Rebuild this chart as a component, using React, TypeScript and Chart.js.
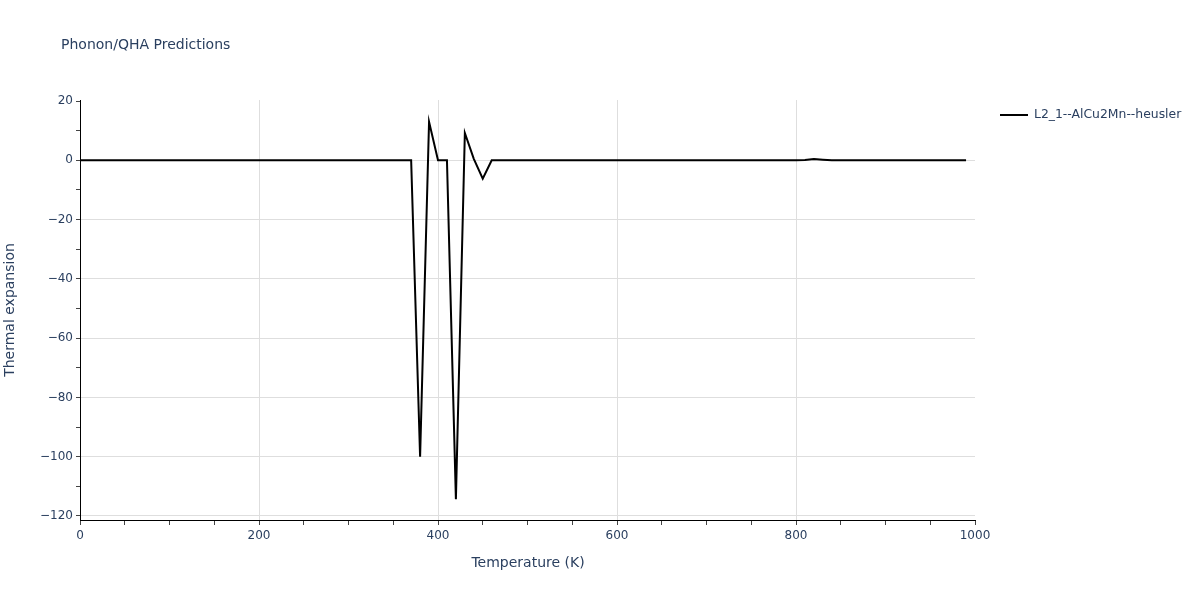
import React, { useEffect, useRef } from "react";
import { Chart, registerables } from "chart.js";

Chart.register(...registerables);

const temperatures = [
  0, 10, 20, 30, 40, 50, 60, 70, 80, 90,
  100, 110, 120, 130, 140, 150, 160, 170, 180, 190,
  200, 210, 220, 230, 240, 250, 260, 270, 280, 290,
  300, 310, 320, 330, 340, 350, 360, 370, 380, 390,
  400, 410, 420, 430, 440, 450, 460, 470, 480, 490,
  500, 510, 520, 530, 540, 550, 560, 570, 580, 590,
  600, 610, 620, 630, 640, 650, 660, 670, 680, 690,
  700, 710, 720, 730, 740, 750, 760, 770, 780, 790,
  800, 810, 820, 830, 840, 850, 860, 870, 880, 890,
  900, 910, 920, 930, 940, 950, 960, 970, 980, 990,
];

const thermalExpansion = [
  0, 0, 0, 0, 0, 0, 0, 0, 0, 0,
  0, 0, 0, 0, 0, 0, 0, 0, 0, 0,
  0, 0, 0, 0, 0, 0, 0, 0, 0, 0,
  0, 0, 0, 0, 0, 0, 0, 0, -100, 13,
  0, 0, -114.3, 9.2, 0.5, -6.2, 0, 0, 0, 0,
  0, 0, 0, 0, 0, 0, 0, 0, 0, 0,
  0, 0, 0, 0, 0, 0, 0, 0, 0, 0,
  0, 0, 0, 0, 0, 0, 0, 0, 0, 0,
  0, 0.1, 0.4, 0.2, 0, 0, 0, 0, 0, 0,
  0, 0, 0, 0, 0, 0, 0, 0, 0, 0,
];

const seriesName = "L2_1--AlCu2Mn--heusler";
const chartTitle = "Phonon/QHA Predictions";
const xTitle = "Temperature (K)";
const yTitle = "Thermal expansion";
const yTickValues = [-120, -110, -100, -90, -80, -70, -60, -50, -40, -30, -20, -10, 0, 10, 20];

const FONT = "'DejaVu Sans', Verdana, sans-serif";
const TEXT = "#2a3f5f";
const GRID = "#dedede";
const NONE = "rgba(0,0,0,0)";

const overlay = {
  id: "overlay",
  afterDraw(chart: any) {
    const ctx = chart.ctx;
    ctx.save();
    ctx.fillStyle = TEXT;
    ctx.textBaseline = "middle";
    ctx.font = `14px ${FONT}`;
    ctx.textAlign = "left";
    ctx.fillText(chartTitle, 61, 45);

    ctx.font = `14px ${FONT}`;
    ctx.textAlign = "center";
    ctx.fillText(xTitle, 528, 563);

    ctx.save();
    ctx.translate(10, 310);
    ctx.rotate(-Math.PI / 2);
    ctx.fillText(yTitle, 0, 0);
    ctx.restore();

    // legend
    ctx.strokeStyle = "#000";
    ctx.lineWidth = 2;
    ctx.beginPath();
    ctx.moveTo(1000, 115);
    ctx.lineTo(1028, 115);
    ctx.stroke();
    ctx.font = `12.4px ${FONT}`;
    ctx.textAlign = "left";
    ctx.fillText(seriesName, 1034, 115);
    ctx.restore();
  },
};

export default function App() {
  const ref = useRef<HTMLCanvasElement | null>(null);

  useEffect(() => {
    document.body.style.margin = "0";
    if (!ref.current) return;
    const chart = new Chart(ref.current, {
      type: "line",
      data: {
        datasets: [
          {
            label: seriesName,
            data: temperatures.map((t, i) => ({ x: t, y: thermalExpansion[i] })),
            borderColor: "#000",
            borderWidth: 2,
            pointRadius: 0,
            tension: 0,
            fill: false,
          },
        ],
      },
      options: {
        animation: false,
        responsive: false,
        maintainAspectRatio: false,
        layout: { padding: { left: 0, right: 225, top: 100, bottom: 0 } },
        plugins: {
          legend: { display: false },
          title: { display: false },
          tooltip: { enabled: false },
        },
        scales: {
          x: {
            type: "linear",
            min: 0,
            max: 1000,
            afterFit(scale: any) {
              scale.height = 80;
            },
            afterBuildTicks(scale: any) {
              const t = [];
              for (let v = 0; v <= 1000; v += 50) t.push({ value: v });
              scale.ticks = t;
            },
            border: { display: true, color: "#000", width: 1 },
            grid: {
              color: (c: any) =>
                c.tick && c.tick.value % 200 === 0 && c.tick.value > 0 && c.tick.value < 1000 ? GRID : NONE,
              tickColor: "#444",
              tickLength: 5,
              drawTicks: true,
            },
            ticks: {
              color: TEXT,
              font: { family: FONT, size: 12 },
              maxRotation: 0,
              autoSkip: false,
              padding: 4,
              callback: (v: any) => (Number(v) % 200 === 0 ? String(v) : ""),
            },
          },
          y: {
            type: "linear",
            min: -121.35,
            max: 20.34,
            afterFit(scale: any) {
              scale.width = 80;
            },
            afterBuildTicks(scale: any) {
              scale.ticks = yTickValues.map((v) => ({ value: v }));
            },
            border: { display: true, color: "#000", width: 1 },
            grid: {
              color: (c: any) =>
                c.tick && c.tick.value % 20 === 0 && c.tick.value < 20 ? GRID : NONE,
              tickColor: "#444",
              tickLength: 4,
              drawTicks: true,
            },
            ticks: {
              color: TEXT,
              font: { family: FONT, size: 12 },
              autoSkip: false,
              padding: 3,
              callback: (v: any) => {
                const n = Number(v);
                if (n % 20 !== 0) return "";
                return n < 0 ? "\u2212" + Math.abs(n) : String(n);
              },
            },
          },
        },
      },
      plugins: [overlay],
    });
    return () => chart.destroy();
  }, []);

  return (
    <div style={{ position: "absolute", left: 0, top: 0, width: 1200, height: 600, background: "#fff" }}>
      <canvas ref={ref} width={1200} height={600} style={{ width: 1200, height: 600 }} />
    </div>
  );
}
